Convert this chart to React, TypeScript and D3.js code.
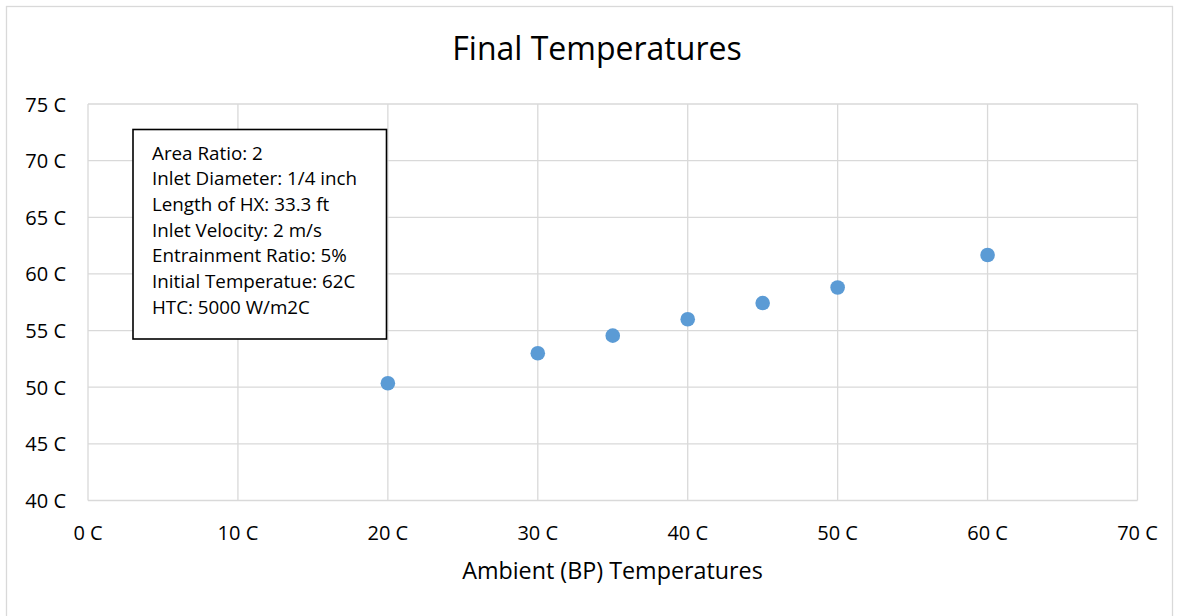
import React from "react";
import * as d3 from "d3";

const ambient = [20, 30, 35, 40, 45, 50, 60];
const finalTemp = [50.35, 53.0, 54.55, 56.0, 57.43, 58.8, 61.67];
const xTicks = [0, 10, 20, 30, 40, 50, 60, 70];
const yTicks = [40, 45, 50, 55, 60, 65, 70, 75];
const infoLines = [
  "Area Ratio: 2",
  "Inlet Diameter: 1/4 inch",
  "Length of HX: 33.3 ft",
  "Inlet Velocity: 2 m/s",
  "Entrainment Ratio: 5%",
  "Initial Temperatue: 62C",
  "HTC: 5000 W/m2C",
];

const W = 1179;
const H = 616;
const FONT = "'Open Sans', 'Noto Sans', sans-serif";
const GRID = "#d9d9d9";
const TEXT = "#000000";

export default function App() {
  const x = d3.scaleLinear().domain([0, 70]).range([88, 1137.5]);
  const y = d3.scaleLinear().domain([40, 75]).range([500.5, 104]);

  return (
    <svg
      width={W}
      height={H}
      style={{ position: "absolute", left: 0, top: 0, background: "#fff" }}
      fontFamily={FONT}
    >
      <rect x={0} y={0} width={W} height={H} fill="#fff" />
      <rect x={6.5} y={6.5} width={1166} height={H} fill="#fff" stroke={GRID} strokeWidth={1.3} />
      <text x={597} y={60} textAnchor="middle" fontSize={32} fill={TEXT}>
        Final Temperatures
      </text>
      {xTicks.map((t) => (
        <line key={"gx" + t} x1={x(t)} x2={x(t)} y1={y(75)} y2={y(40)} stroke={GRID} strokeWidth={1.3} />
      ))}
      {yTicks.map((t) => (
        <line key={"gy" + t} x1={x(0)} x2={x(70)} y1={y(t)} y2={y(t)} stroke={GRID} strokeWidth={1.3} />
      ))}
      {yTicks.map((t) => (
        <text key={"ty" + t} x={66} y={y(t) + 7.5} textAnchor="end" fontSize={20} fill={TEXT}>
          {`${t} C`}
        </text>
      ))}
      {xTicks.map((t) => (
        <text key={"tx" + t} x={x(t)} y={539.5} textAnchor="middle" fontSize={20} fill={TEXT}>
          {`${t} C`}
        </text>
      ))}
      <text x={612.5} y={579} textAnchor="middle" fontSize={23.3} fill={TEXT}>
        Ambient (BP) Temperatures
      </text>
      {ambient.map((a, i) => (
        <circle key={"p" + i} cx={x(a)} cy={y(finalTemp[i])} r={7.3} fill="#5b9bd5" />
      ))}
      <rect x={133} y={129.5} width={253.5} height={209.5} fill="#fff" stroke="#000" strokeWidth={1.6} />
      {infoLines.map((l, i) => (
        <text key={"l" + i} x={152} y={159.5 + i * 25.7} fontSize={18.8} fill={TEXT}>
          {l}
        </text>
      ))}
    </svg>
  );
}
